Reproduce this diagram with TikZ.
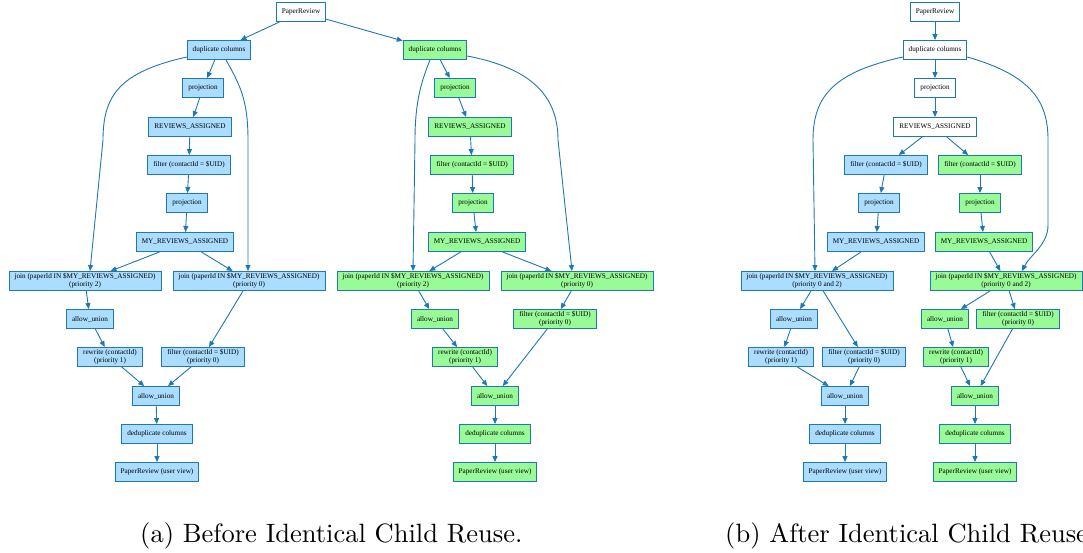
\documentclass[tikz,border=0pt]{standalone}
\usepackage{fontspec}
\usetikzlibrary{arrows.meta}
\newfontfamily\opfont{Liberation Serif}
\definecolor{flowblue}{HTML}{1F77B4}
\definecolor{opblue}{HTML}{AADDFF}
\definecolor{opgreen}{HTML}{98FB98}
\tikzset{
  op/.style={draw=flowblue, rectangle, line width=0.9pt, minimum height=19pt,
    inner xsep=5.5pt, inner ysep=1pt, align=center,
    font=\opfont\fontsize{7.2}{8}\selectfont},
  plainop/.style={op, fill=white},
  blueop/.style={op, fill=opblue},
  greenop/.style={op, fill=opgreen},
  flow/.style={draw=flowblue, line width=0.9pt, -{Triangle[length=6pt,width=5pt]}},
  subcap/.style={anchor=base west, inner sep=0pt, font=\fontsize{10}{12}\selectfont}
}
\begin{document}
\begin{tikzpicture}[x=1pt,y=-1pt]
        \useasboundingbox (0,0) rectangle (1083,552);

        \node[plainop] (aPR) at (301,12) {PaperReview};

        \node[blueop] (abDup) at (219,50) {duplicate columns};
        \node[blueop] (abProj) at (203,88) {projection};
        \node[blueop] (abRA) at (190,127) {REVIEWS\_ASSIGNED};
        \node[blueop] (abFilter) at (189,165) {filter (contactId = \$UID)};
        \node[blueop] (abProj2) at (187,203) {projection};
        \node[blueop] (abMyRA) at (185,242) {MY\_REVIEWS\_ASSIGNED};
        \node[blueop] (abJoinL) at (85,281) {join (paperId IN \$MY\_REVIEWS\_ASSIGNED)\\(priority 2)};
        \node[blueop] (abJoinR) at (249,281) {join (paperId IN \$MY\_REVIEWS\_ASSIGNED)\\(priority 0)};
        \node[blueop] (abAllow) at (90,319) {allow\_union};
        \node[blueop] (abRewrite) at (110,357) {rewrite (contactId)\\(priority 1)};
        \node[blueop] (abFilterP) at (203,357) {filter (contactId = \$UID)\\(priority 0)};
        \node[blueop] (abAllow2) at (156,396) {allow\_union};
        \node[blueop] (abDedup) at (157,434) {deduplicate columns};
        \node[blueop] (abUser) at (157,472) {PaperReview (user view)};

        \node[greenop] (agDup) at (435,50) {duplicate columns};
        \node[greenop] (agProj) at (455,88) {projection};
        \node[greenop] (agRA) at (470,127) {REVIEWS\_ASSIGNED};
        \node[greenop] (agFilter) at (472,165) {filter (contactId = \$UID)};
        \node[greenop] (agProj2) at (473,203) {projection};
        \node[greenop] (agMyRA) at (477,242) {MY\_REVIEWS\_ASSIGNED};
        \node[greenop] (agJoinL) at (413,281) {join (paperId IN \$MY\_REVIEWS\_ASSIGNED)\\(priority 2)};
        \node[greenop] (agJoinR) at (577,281) {join (paperId IN \$MY\_REVIEWS\_ASSIGNED)\\(priority 0)};
        \node[greenop] (agAllow) at (435,319) {allow\_union};
        \node[greenop] (agFilterP) at (555,319) {filter (contactId = \$UID)\\(priority 0)};
        \node[greenop] (agRewrite) at (465,357) {rewrite (contactId)\\(priority 1)};
        \node[greenop] (agAllow2) at (495,396) {allow\_union};
        \node[greenop] (agDedup) at (495,434) {deduplicate columns};
        \node[greenop] (agUser) at (495,472) {PaperReview (user view)};

        \draw[flow] (aPR) -- (abDup);
        \draw[flow] (aPR) -- (agDup);
        \draw[flow] (abDup) -- (abProj);
        \draw[flow] (abProj) -- (abRA);
        \draw[flow] (abRA) -- (abFilter);
        \draw[flow] (abFilter) -- (abProj2);
        \draw[flow] (abProj2) -- (abMyRA);
        \draw[flow] (abMyRA) -- (abJoinL);
        \draw[flow] (abMyRA) -- (abJoinR);
        \draw[flow] ([yshift=-7]abDup.west) .. controls (120,72) and (103,95) .. (103,140) -- ([xshift=5]abJoinL.north);
        \draw[flow] ([xshift=7]abDup.south) .. controls (240,85) and (248,100) .. (248,140) -- ([xshift=-1]abJoinR.north);
        \draw[flow] (abJoinL) -- (abAllow);
        \draw[flow] (abAllow) -- (abRewrite);
        \draw[flow] (abJoinR) -- (abFilterP);
        \draw[flow] (abRewrite) -- (abAllow2);
        \draw[flow] (abFilterP) -- (abAllow2);
        \draw[flow] (abAllow2) -- (abDedup);
        \draw[flow] (abDedup) -- (abUser);

        \draw[flow] (agDup) -- (agProj);
        \draw[flow] (agProj) -- (agRA);
        \draw[flow] (agRA) -- (agFilter);
        \draw[flow] (agFilter) -- (agProj2);
        \draw[flow] (agProj2) -- (agMyRA);
        \draw[flow] (agMyRA) -- (agJoinL);
        \draw[flow] (agMyRA) -- (agJoinR);
        \draw[flow] ([xshift=-5]agDup.south) .. controls (422,80) and (415,100) .. (415,140) -- (agJoinL.north);
        \draw[flow] ([yshift=-6]agDup.east) .. controls (530,68) and (558,95) .. (558,140) -- ([xshift=-5]agJoinR.north);
        \draw[flow] (agJoinL) -- (agAllow);
        \draw[flow] (agAllow) -- (agRewrite);
        \draw[flow] (agJoinR) -- (agFilterP);
        \draw[flow] (agRewrite) -- (agAllow2);
        \draw[flow] (agFilterP) -- (agAllow2);
        \draw[flow] (agAllow2) -- (agDedup);
        \draw[flow] (agDedup) -- (agUser);

        \node[plainop] (bPR) at (935,12) {PaperReview};
        \node[plainop] (bDup) at (935,50) {duplicate columns};
        \node[plainop] (bProj) at (935,88) {projection};
        \node[plainop] (bRA) at (935,127) {REVIEWS\_ASSIGNED};

        \node[blueop] (bbFilter) at (886,165) {filter (contactId = \$UID)};
        \node[blueop] (bbProj) at (879,203) {projection};
        \node[blueop] (bbMyRA) at (876,242) {MY\_REVIEWS\_ASSIGNED};
        \node[blueop] (bbJoin) at (817,281) {join (paperId IN \$MY\_REVIEWS\_ASSIGNED)\\(priority 0 and 2)};
        \node[blueop] (bbAllow) at (794,319) {allow\_union};
        \node[blueop] (bbRewrite) at (781,357) {rewrite (contactId)\\(priority 1)};
        \node[blueop] (bbFilterP) at (864,357) {filter (contactId = \$UID)\\(priority 0)};
        \node[blueop] (bbAllow2) at (845,396) {allow\_union};
        \node[blueop] (bbDedup) at (845,434) {deduplicate columns};
        \node[blueop] (bbUser) at (845,472) {PaperReview (user view)};

        \node[greenop] (bgFilter) at (980,165) {filter (contactId = \$UID)};
        \node[greenop] (bgProj) at (980,203) {projection};
        \node[greenop] (bgMyRA) at (984,242) {MY\_REVIEWS\_ASSIGNED};
        \node[greenop] (bgJoin) at (1006,281) {join (paperId IN \$MY\_REVIEWS\_ASSIGNED)\\(priority 0 and 2)};
        \node[greenop] (bgAllow) at (945,319) {allow\_union};
        \node[greenop] (bgFilterP) at (1018,319) {filter (contactId = \$UID)\\(priority 0)};
        \node[greenop] (bgRewrite) at (956,357) {rewrite (contactId)\\(priority 1)};
        \node[greenop] (bgAllow2) at (975,396) {allow\_union};
        \node[greenop] (bgDedup) at (975,434) {deduplicate columns};
        \node[greenop] (bgUser) at (975,472) {PaperReview (user view)};

        \draw[flow] (bPR) -- (bDup);
        \draw[flow] (bDup) -- (bProj);
        \draw[flow] (bProj) -- (bRA);
        \draw[flow] (bRA) -- (bbFilter);
        \draw[flow] (bRA) -- (bgFilter);
        \draw[flow] (bbFilter) -- (bbProj);
        \draw[flow] (bbProj) -- (bbMyRA);
        \draw[flow] (bbMyRA) -- (bbJoin);
        \draw[flow] (bgFilter) -- (bgProj);
        \draw[flow] (bgProj) -- (bgMyRA);
        \draw[flow] (bgMyRA) -- (bgJoin);
        \draw[flow] ([yshift=-7]bDup.west) .. controls (835,72) and (813,95) .. (813,140) -- ([xshift=-2]bbJoin.north);
        \draw[flow] ([yshift=-7]bDup.east) .. controls (1030,75) and (1048,100) .. (1048,140) -- (1048,225) .. controls (1048,245) and (1030,255) .. ([xshift=16]bgJoin.north);
        \draw[flow] (bbJoin) -- (bbAllow);
        \draw[flow] (bbJoin) -- (bbFilterP);
        \draw[flow] (bbAllow) -- (bbRewrite);
        \draw[flow] (bbRewrite) -- (bbAllow2);
        \draw[flow] (bbFilterP) -- (bbAllow2);
        \draw[flow] (bbAllow2) -- (bbDedup);
        \draw[flow] (bbDedup) -- (bbUser);
        \draw[flow] (bgJoin) -- (bgAllow);
        \draw[flow] (bgJoin) -- (bgFilterP);
        \draw[flow] (bgAllow) -- (bgRewrite);
        \draw[flow] (bgRewrite) -- (bgAllow2);
        \draw[flow] (bgFilterP) -- (bgAllow2);
        \draw[flow] (bgAllow2) -- (bgDedup);
        \draw[flow] (bgDedup) -- (bgUser);

        \node[subcap] (capA) at (140,542) {\scalebox{2.65}{(a) Before Identical Child Reuse.}};
        \node[subcap] (capB) at (725,542) {\scalebox{2.65}{(b) After Identical Child Reuse.}};
\end{tikzpicture}
\end{document}
